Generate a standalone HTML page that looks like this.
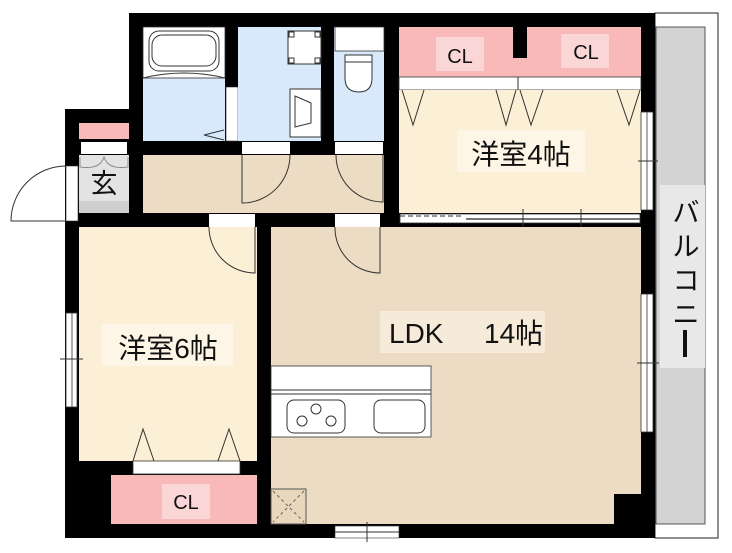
<!DOCTYPE html>
<html><head><meta charset="utf-8"><style>
html,body{margin:0;padding:0;background:#fff;}
svg{display:block;}
text{font-family:"Liberation Sans","Noto Sans CJK JP",sans-serif;fill:#111;}
</style></head><body>
<svg width="732" height="553" viewBox="0 0 732 553" xmlns="http://www.w3.org/2000/svg">
<rect x="655" y="13" width="63" height="525" fill="#fff" stroke="#222" stroke-width="1"/>
<rect x="656" y="27" width="49" height="497" fill="#d3d3d3" stroke="#333" stroke-width="0.8"/>
<rect x="660" y="185" width="45" height="183" fill="#e8e8e8"/>
<text x="686" y="222" font-size="27" text-anchor="middle">バ</text>
<text x="686" y="256" font-size="27" text-anchor="middle">ル</text>
<text x="686" y="290" font-size="27" text-anchor="middle">コ</text>
<text x="686" y="324" font-size="27" text-anchor="middle">ニ</text>
<rect x="683" y="330" width="4" height="27" fill="#111"/>

<rect x="129" y="13" width="526" height="200" fill="#000"/>
<rect x="65" y="109" width="80" height="110" fill="#000"/>
<rect x="65" y="213" width="590" height="325" fill="#000"/>

<rect x="143" y="27" width="82" height="114" fill="#d8e9fb"/>
<rect x="143" y="27" width="82" height="51" fill="#fff" stroke="#333" stroke-width="0.8"/>
<rect x="149" y="31" width="70" height="40" rx="10" fill="#fff" stroke="#333"/>
<rect x="152" y="35" width="64" height="31" rx="10" fill="none" stroke="#333"/>
<path d="M143 78 Q184 68 225 78" fill="none" stroke="#333"/>
<path d="M224 130 L204 135 L224 140" fill="none" stroke="#333"/>
<rect x="226" y="87" width="12" height="54" fill="#fff" stroke="#333" stroke-width="0.6"/>
<rect x="238" y="27" width="83" height="114" fill="#d8e9fb"/>
<rect x="288" y="31" width="33" height="33" fill="#fff" stroke="#333"/>
<rect x="289" y="32" width="5" height="5" fill="none" stroke="#333"/>
<rect x="315" y="32" width="5" height="5" fill="none" stroke="#333"/>
<rect x="289" y="58" width="5" height="5" fill="none" stroke="#333"/>
<rect x="315" y="58" width="5" height="5" fill="none" stroke="#333"/>
<rect x="290" y="89" width="31" height="48" fill="#fff" stroke="#333"/>
<path d="M295 96 L311 103 L311 123 L295 127 Z" fill="none" stroke="#333"/>
<rect x="334" y="27" width="50" height="114" fill="#d8e9fb"/>
<rect x="335" y="27" width="49" height="24" fill="#fff" stroke="#333" stroke-width="0.8"/>
<path d="M345 55 L372 55 L372 78 Q372 92 359 92 Q345 92 345 78 Z" fill="#fff" stroke="#333"/>
<line x1="345" y1="62" x2="372" y2="62" stroke="#333"/>

<rect x="399" y="27" width="242" height="50" fill="#f9b9b9"/>
<rect x="513" y="27" width="14" height="31" fill="#000"/>
<rect x="436" y="37" width="48" height="34" fill="#fad6d6"/>
<rect x="561" y="34" width="48" height="34" fill="#fad6d6"/>
<text x="460" y="63" font-size="20" text-anchor="middle">CL</text>
<text x="586" y="59" font-size="20" text-anchor="middle">CL</text>
<rect x="399" y="77" width="242" height="13" fill="#fff" stroke="#333" stroke-width="0.8"/>
<line x1="518" y1="77" x2="518" y2="90" stroke="#333"/>
<rect x="399" y="90" width="242" height="123" fill="#fbefd5"/>
<path d="M402 90 L413 125 L424 90 M496 90 L506 125 L516 90 M520 90 L531 125 L543 90 M617 90 L629 125 L640 90" fill="none" stroke="#333"/>
<rect x="457" y="130" width="128" height="42" fill="#fdf6e6"/>
<text x="521" y="164" font-size="28" text-anchor="middle">洋室4帖</text>
<rect x="641" y="112" width="12" height="98" fill="#fff" stroke="#333" stroke-width="0.8"/>
<line x1="647" y1="112" x2="647" y2="210" stroke="#333" stroke-width="0.8"/>
<line x1="638" y1="161" x2="658" y2="161" stroke="#333"/>
<rect x="400" y="214" width="240" height="9" fill="#fff" stroke="#333" stroke-width="0.8"/>
<line x1="466" y1="219" x2="640" y2="219" stroke="#777" stroke-width="2"/>
<line x1="523" y1="209" x2="523" y2="230" stroke="#333"/>
<line x1="581" y1="209" x2="581" y2="230" stroke="#333"/>
<line x1="400" y1="216" x2="462" y2="216" stroke="#333" stroke-dasharray="5 3"/>

<rect x="143" y="155" width="241" height="58" fill="#ecdcc3"/>
<rect x="242" y="142" width="48" height="12" fill="#fff"/>
<rect x="335" y="142" width="48" height="12" fill="#fff"/>
<path d="M242 155 L242 203 A48 48 0 0 0 290 155" fill="none" stroke="#333"/>
<path d="M383 155 L383 202 A47 47 0 0 1 336 155" fill="none" stroke="#333"/>
<rect x="79" y="123" width="50" height="16" fill="#f9b9b9"/>
<rect x="81" y="142" width="46" height="12" fill="#fff"/>
<rect x="79" y="155" width="50" height="58" fill="#e3e3e3"/>
<rect x="79" y="201" width="50" height="12" fill="#cfcfcf"/>
<path d="M80 157 L80 167 Q100 170 104 157 Q108 170 128 167 L128 157" fill="none" stroke="#777" stroke-width="0.8"/>
<text x="104" y="193" font-size="27" text-anchor="middle">玄</text>
<rect x="66" y="166" width="12" height="55" fill="#fff" stroke="#333" stroke-width="0.6"/>
<path d="M66 166 A55 55 0 0 0 11 221 L66 221" fill="none" stroke="#333"/>

<rect x="79" y="227" width="178" height="234" fill="#fbefd5"/>
<rect x="209" y="214" width="46" height="13" fill="#fff"/>
<path d="M255 227 L255 273 A46 46 0 0 1 209 227" fill="none" stroke="#333"/>
<rect x="102" y="324" width="131" height="42" fill="#fdf6e6"/>
<text x="168" y="358" font-size="28" text-anchor="middle">洋室6帖</text>
<rect x="66" y="313" width="11" height="94" fill="#fff" stroke="#333" stroke-width="0.8"/>
<line x1="72" y1="313" x2="72" y2="407" stroke="#333" stroke-width="0.8"/>
<line x1="60" y1="359" x2="83" y2="359" stroke="#333"/>
<path d="M133 461 L143 429 L154 461 M218 461 L229 429 L240 461" fill="none" stroke="#333"/>
<rect x="133" y="461" width="107" height="13" fill="#fff" stroke="#333" stroke-width="0.8"/>
<rect x="111" y="475" width="146" height="49" fill="#f9b9b9"/>
<rect x="162" y="484" width="48" height="35" fill="#fad6d6"/>
<text x="186" y="509" font-size="20" text-anchor="middle">CL</text>

<rect x="271" y="227" width="370" height="297" fill="#ecdcc3"/>
<rect x="614" y="494" width="27" height="30" fill="#000"/>
<rect x="335" y="214" width="45" height="13" fill="#fff"/>
<path d="M380 227 L380 273 A45 45 0 0 1 335 227" fill="none" stroke="#333"/>
<rect x="380" y="311" width="165" height="42" fill="#f6ead8"/>
<text x="389" y="343" font-size="28">LDK</text>
<text x="484" y="343" font-size="28">14帖</text>
<rect x="641" y="294" width="12" height="138" fill="#fff" stroke="#333" stroke-width="0.8"/>
<line x1="647" y1="294" x2="647" y2="432" stroke="#333" stroke-width="0.8"/>
<line x1="637" y1="363" x2="659" y2="363" stroke="#333"/>
<rect x="271" y="366" width="160" height="71" fill="#fff" stroke="#333" stroke-width="0.8"/>
<line x1="271" y1="390" x2="431" y2="390" stroke="#333"/>
<line x1="271" y1="394" x2="431" y2="394" stroke="#333"/>
<rect x="287" y="400" width="58" height="33" rx="7" fill="#fff" stroke="#333"/>
<circle cx="316" cy="409" r="5" fill="none" stroke="#333"/>
<circle cx="302" cy="421" r="5" fill="none" stroke="#333"/>
<circle cx="331" cy="421" r="5" fill="none" stroke="#333"/>
<rect x="374" y="400" width="51" height="33" rx="7" fill="#fff" stroke="#333"/>
<rect x="271" y="489" width="35" height="35" fill="#e8d6bd" stroke="#555"/>
<path d="M273 491 L304 522 M304 491 L273 522" stroke="#666" stroke-dasharray="3 3"/>
<rect x="335" y="526" width="64" height="12" fill="#fff" stroke="#333" stroke-width="0.6"/>
<line x1="335" y1="532" x2="399" y2="532" stroke="#333"/>
<line x1="367" y1="522" x2="367" y2="542" stroke="#333"/>
</svg>
</body></html>
